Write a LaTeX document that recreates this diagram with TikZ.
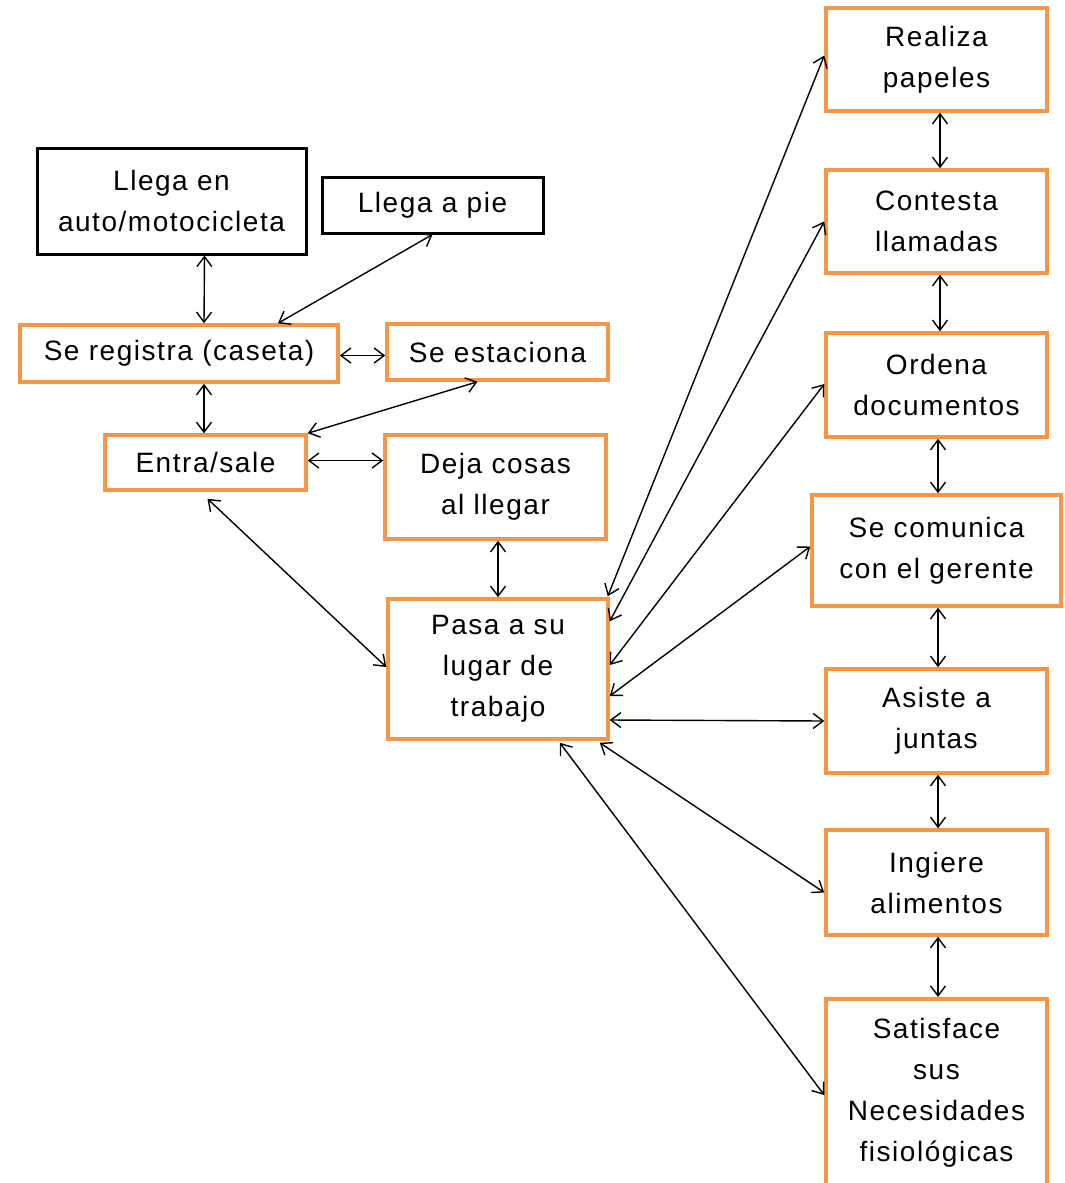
\documentclass[tikz,border=0pt]{standalone}
\usepackage{fontspec}
\setmainfont{Liberation Sans}[LetterSpace=5.5]
\usetikzlibrary{arrows.meta,calc}
\definecolor{boxorange}{HTML}{F79646}
\begin{document}
\begin{tikzpicture}[x=1pt,y=-1pt,
  base/.style={rectangle,align=center,inner sep=0pt,font=\fontsize{28}{41}\selectfont,text=black},
  obox/.style={base,draw=boxorange,line width=3.5pt},
  kbox/.style={base,draw=black,line width=3pt},
  link/.style={black,line width=1.4pt,{Straight Barb[length=10pt,width=15pt]}-{Straight Barb[length=10pt,width=15pt]}}]
\useasboundingbox (0,0) rectangle (1065,1183);
% left column
\node[kbox,minimum width=269,minimum height=106] (auto) at (171.5,201) {Llega en\\auto/motocicleta};
\node[kbox,minimum width=221,minimum height=56] (pie) at (432.5,205) {Llega a pie};
\node[obox,minimum width=318,minimum height=57] (reg) at (179,353.5) {Se registra (caseta)};
\node[obox,minimum width=221,minimum height=56] (est) at (497.5,352) {Se estaciona};
\node[obox,minimum width=201,minimum height=55] (ent) at (205.5,462.5) {Entra/sale};
\node[obox,minimum width=221,minimum height=104] (deja) at (495.5,487) {Deja cosas\\al llegar};
\node[obox,minimum width=220,minimum height=140] (pasa) at (498,669) {Pasa a su\\lugar de\\trabajo};
% right column
\node[obox,minimum width=221,minimum height=103] (real) at (936.5,59.5) {Realiza\\papeles};
\node[obox,minimum width=221,minimum height=103] (cont) at (936.5,221.5) {Contesta\\llamadas};
\node[obox,minimum width=221,minimum height=104] (ord) at (936.5,385) {Ordena\\documentos};
\node[obox,minimum width=249,minimum height=111] (com) at (936.5,550.5) {Se comunica\\con el gerente};
\node[obox,minimum width=221,minimum height=104] (asis) at (936.5,721) {Asiste a\\juntas};
\node[obox,minimum width=221,minimum height=105] (ing) at (936.5,882.5) {Ingiere\\alimentos};
\node[obox,minimum width=221,minimum height=224,anchor=north] (sat) at (936.5,997) {Satisface\\sus\\Necesidades\\fisiológicas\\\mbox{}};
% connectors left
\draw[link] ($(auto.south)+(33,0)$) -- ($(reg.north)+(25,0)$);
\draw[link] (pie.south) -- ($(reg.north)+(99,0)$);
\draw[link] ($(reg.east)+(0,2)$) -- ($(reg.east -| est.west)+(0,2)$);
\draw[link] ($(reg.south)+(25,0)$) -- ($(ent.north)+(-1.5,0)$);
\draw[link] ($(est.south)+(-20,0)$) -- (ent.north east);
\draw[link] ($(ent.east)+(0,-2)$) -- ($(ent.east -| deja.west)+(0,-2)$);
\draw[link] ($(ent.south)+(2,7)$) -- ($(pasa.west)+(0,-2)$);
\draw[link] ($(deja.south)+(2.5,0)$) -- ($(pasa.north)+(0,0)$);
% connectors fan
\draw[link] ($(pasa.north east)+(-2,-1)$) -- ($(real.west)+(0,-4)$);
\draw[link] ($(pasa.north east)+(0,24)$) -- (cont.west);
\draw[link] ($(pasa.east)+(0,-4)$) -- ($(ord.west)+(0,-1)$);
\draw[link] ($(pasa.east)+(0,27)$) -- ($(com.west)+(0,-4)$);
\draw[link] ($(pasa.east)+(0,51)$) -- (asis.west);
\draw[link] ($(pasa.south east)+(-10,2)$) -- ($(ing.west)+(0,10)$);
\draw[link] ($(pasa.south east)+(-50,2)$) -- ($(sat.north west)+(0,98)$);
% right column verticals
\draw[link] ($(real.south)+(3.5,0)$) -- ($(cont.north)+(3.5,0)$);
\draw[link] ($(cont.south)+(3.5,0)$) -- ($(ord.north)+(3.5,0)$);
\draw[link] ($(ord.south)+(1.5,0)$) -- ($(com.north)+(1.5,0)$);
\draw[link] ($(com.south)+(1.5,0)$) -- ($(asis.north)+(1.5,0)$);
\draw[link] ($(asis.south)+(1.5,0)$) -- ($(ing.north)+(1.5,0)$);
\draw[link] ($(ing.south)+(1.5,0)$) -- ($(sat.north)+(1.5,0)$);
\end{tikzpicture}
\end{document}
